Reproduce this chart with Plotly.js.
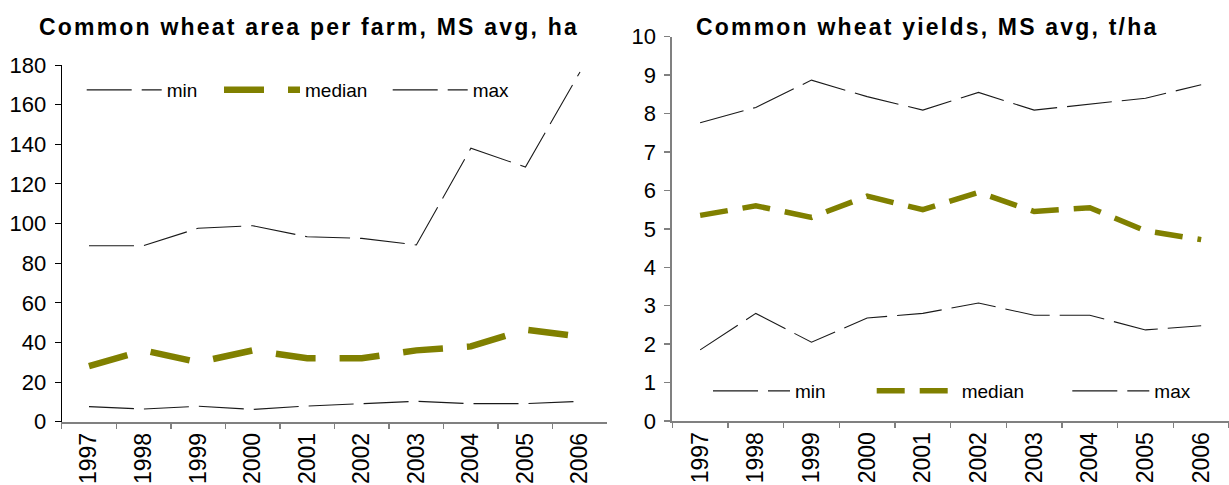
<!DOCTYPE html>
<html>
<head>
<meta charset="utf-8">
<script src="https://cdn.plot.ly/plotly-3.0.1.min.js"></script>
<style>
  html, body { margin: 0; padding: 0; background: #fff; }
  #chart { width: 1229px; height: 485px; }
  .annotation-text { letter-spacing: 2.2px; }
</style>
</head>
<body>
<div id="chart"></div>
<script>
// ---- data ----
const years = ['1997', '1998', '1999', '2000', '2001', '2002', '2003', '2004', '2005', '2006'];
const areaMin = [7.6, 6.4, 7.8, 6.2, 7.9, 9.1, 10.3, 9.1, 9.1, 10.3];
const areaMedian = [28, 36, 30, 36, 32, 32, 36, 38, 46.5, 43];
const areaMax = [88.8, 88.8, 97.6, 98.9, 93.3, 92.5, 89.2, 138, 128.5, 176.5];
const yieldMin = [1.85, 2.8, 2.05, 2.68, 2.8, 3.07, 2.75, 2.75, 2.37, 2.48];
const yieldMedian = [5.35, 5.6, 5.3, 5.85, 5.5, 5.95, 5.45, 5.55, 4.95, 4.72];
const yieldMax = [7.76, 8.16, 8.87, 8.44, 8.09, 8.55, 8.09, 8.24, 8.40, 8.75];
const seriesNames = ['min', 'median', 'max'];
const titles = ['Common wheat area per farm, MS avg, ha', 'Common wheat yields, MS avg, t/ha'];

const FONT = 'Liberation Sans, Arial, sans-serif';
const OLIVE = '#808000';
const thin = (dash) => ({ color: '#1a1a1a', width: 1.1, dash: dash });

const traces = [
  { x: years, y: areaMin, name: seriesNames[0], xaxis: 'x', yaxis: 'y', legend: 'legend',
    mode: 'lines', line: thin('45px,10px') },
  { x: years, y: areaMedian, name: seriesNames[1], xaxis: 'x', yaxis: 'y', legend: 'legend2',
    mode: 'lines', line: { color: OLIVE, width: 6.5, dash: '40px,24px' } },
  { x: years, y: areaMax, name: seriesNames[2], xaxis: 'x', yaxis: 'y', legend: 'legend3',
    mode: 'lines', line: thin('45px,10px') },
  { x: years, y: yieldMin, name: seriesNames[0], xaxis: 'x2', yaxis: 'y2', legend: 'legend4',
    mode: 'lines', line: thin('45px,10px') },
  { x: years, y: yieldMedian, name: seriesNames[1], xaxis: 'x2', yaxis: 'y2', legend: 'legend5',
    mode: 'lines', line: { color: OLIVE, width: 5.5, dash: '28px,15px' } },
  { x: years, y: yieldMax, name: seriesNames[2], xaxis: 'x2', yaxis: 'y2', legend: 'legend6',
    mode: 'lines', line: thin('45px,10px') }
];

const W = 1229, H = 485;
const px = (v) => v / W;
const py = (v) => (H - v) / H;

function legendAt(xPix, yPix, iw) {
  return {
    x: px(xPix), y: py(yPix), xanchor: 'left', yanchor: 'middle',
    orientation: 'h', bgcolor: 'rgba(0,0,0,0)', borderwidth: 0, visible: true,
    itemwidth: iw, itemclick: false, itemdoubleclick: false,
    font: { family: FONT, size: 19, color: '#000' }
  };
}

const xBase = {
  type: 'category', range: [-0.5, 9.5], tickson: 'boundaries',
  ticks: 'outside', ticklen: 5, tickcolor: '#808080', tickwidth: 1.5,
  tickangle: -90, showline: true, linecolor: '#808080', linewidth: 2,
  showgrid: false, zeroline: false, fixedrange: true, automargin: false,
  tickfont: { family: FONT, size: 23, color: '#000' }
};
const yBase = {
  ticks: 'outside', ticklen: 6, showline: true, showgrid: false, zeroline: false,
  fixedrange: true, automargin: false, ticklabelstandoff: 4,
  tickfont: { family: FONT, size: 22, color: '#000' }
};

const layout = {
  width: W, height: H,
  showlegend: true,
  margin: { l: 0, r: 0, t: 0, b: 0 },
  paper_bgcolor: '#fff', plot_bgcolor: '#fff',
  font: { family: FONT, color: '#000' },
  xaxis: Object.assign({}, xBase, { domain: [px(61.7), px(607.3)], anchor: 'y' }),
  yaxis: Object.assign({}, yBase, { domain: [py(421.7), py(65)], anchor: 'x', range: [0, 180], dtick: 20,
    linecolor: '#000', linewidth: 1, tickcolor: '#000' }),
  xaxis2: Object.assign({}, xBase, { domain: [px(672.3), 1], anchor: 'y2' }),
  yaxis2: Object.assign({}, yBase, { domain: [py(421), py(36.7)], anchor: 'x2', range: [0, 10], dtick: 1,
    linecolor: '#808080', linewidth: 2, tickcolor: '#808080', tickwidth: 1.5 }),
  legend: legendAt(81.7, 90, 75),
  legend2: legendAt(219, 90, 76),
  legend3: legendAt(387.7, 90, 75),
  legend4: legendAt(708, 391, 77),
  legend5: legendAt(871.7, 391, 80),
  legend6: legendAt(1067.3, 391, 77),
  annotations: [
    { text: titles[0], xref: 'paper', yref: 'paper', x: px(309), y: py(27), xanchor: 'center', yanchor: 'middle',
      showarrow: false, font: { family: FONT, size: 23, weight: 'bold', color: '#000' } },
    { text: titles[1], xref: 'paper', yref: 'paper', x: px(927), y: py(27), xanchor: 'center', yanchor: 'middle',
      showarrow: false, font: { family: FONT, size: 23, weight: 'bold', color: '#000' } }
  ]
};

Plotly.newPlot('chart', traces, layout, { displayModeBar: false, staticPlot: true });
</script>
</body>
</html>
